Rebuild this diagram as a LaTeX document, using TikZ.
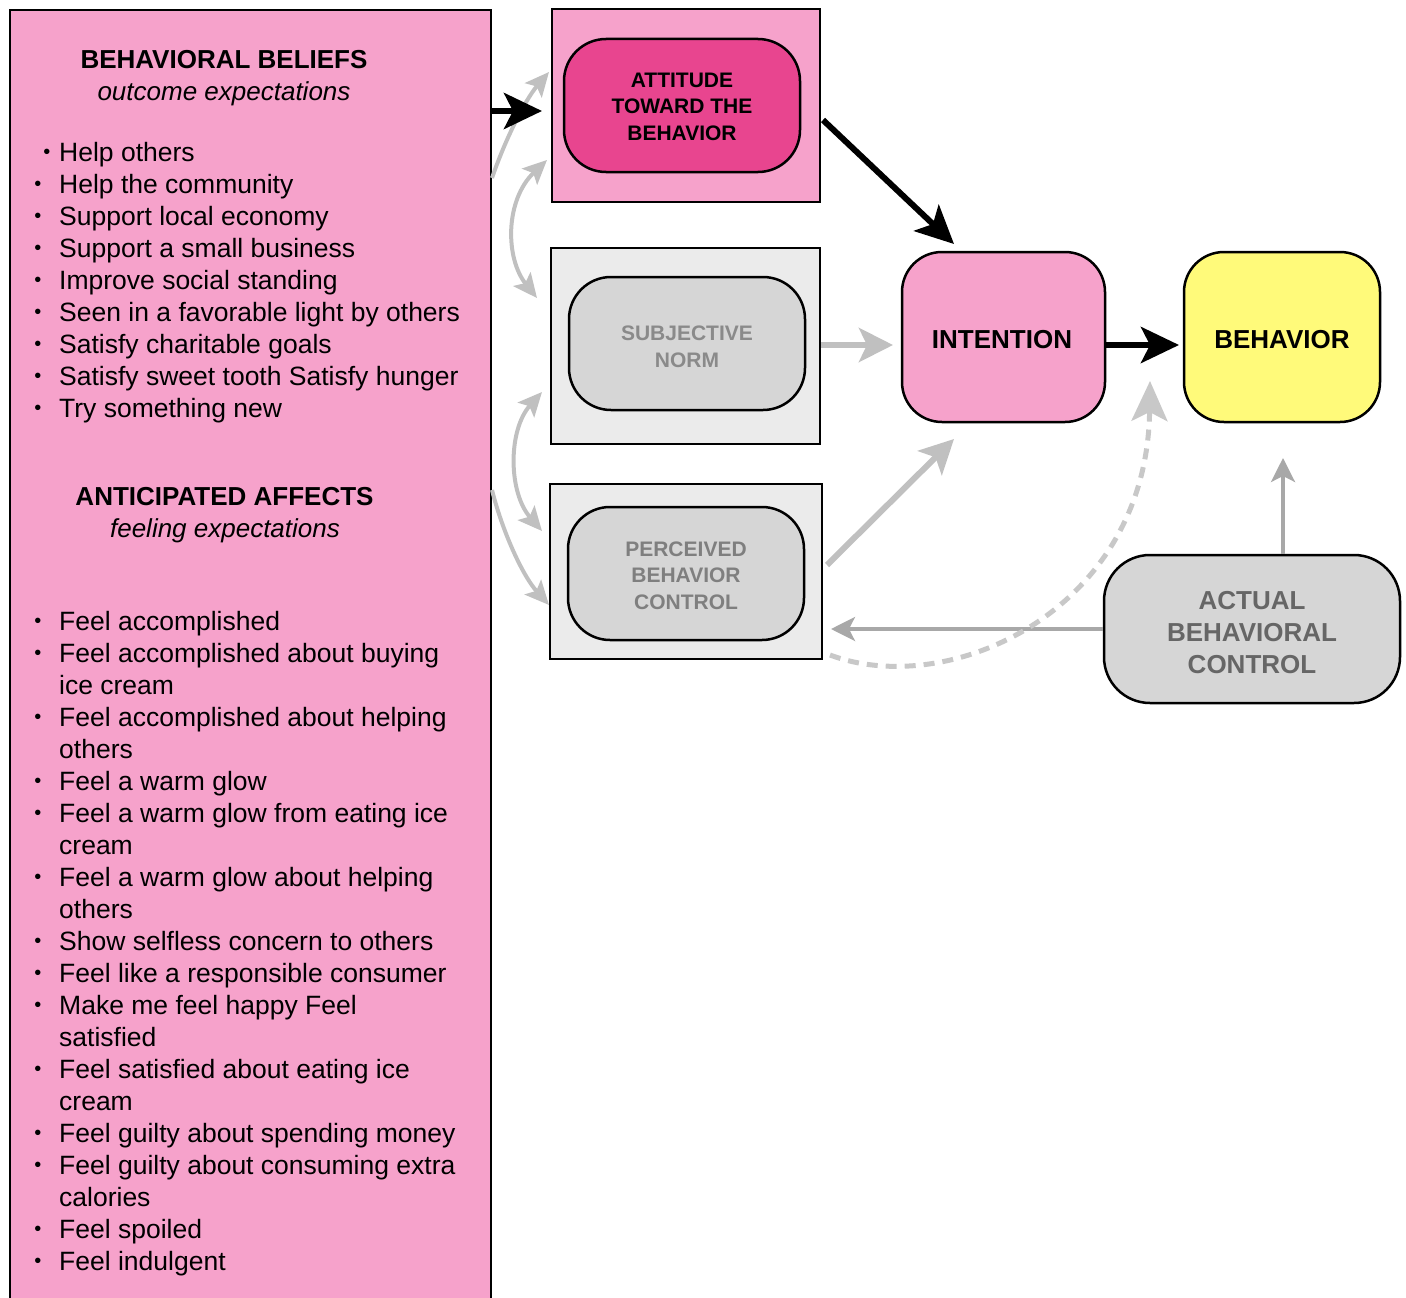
\documentclass[tikz,border=0pt]{standalone}
\usepackage{fontspec}
\setmainfont{Liberation Sans}
\usetikzlibrary{arrows.meta,calc}
\definecolor{panelpink}{HTML}{F6A2CB}
\definecolor{hotpink}{HTML}{E8458F}
\definecolor{outergrey}{HTML}{EBEBEB}
\definecolor{innergrey}{HTML}{D6D6D6}
\definecolor{softyellow}{HTML}{FFFA7A}
\definecolor{arrowgrey}{HTML}{C0C0C0}
\definecolor{thingrey}{HTML}{A8A8A8}
\definecolor{dashgrey}{HTML}{C8C8C8}
\definecolor{normtext}{HTML}{8A8A8A}
\definecolor{pbctext}{HTML}{7F7F7F}
\definecolor{abctext}{HTML}{666666}
\begin{document}
\begin{tikzpicture}[x=1pt,y=-1pt,
  outerbox/.style={draw=black,line width=2.5pt,minimum width=#1},
  innerbox/.style={draw=black,line width=2.5pt,rounded corners=42pt,
    minimum width=236pt,minimum height=133pt,inner sep=0pt},
  boxtext/.style={align=center,inner sep=0pt},
  smallcap/.style={font=\fontsize{21}{26.5}\selectfont\bfseries},
  bigcap/.style={font=\fontsize{26}{32}\selectfont\bfseries},
  mainbox/.style={draw=black,line width=2.5pt,rounded corners=40pt,
    minimum height=170pt,inner sep=0pt},
  listline/.style={anchor=base west,inner sep=0pt,font=\fontsize{26.5}{32}\selectfont},
  dot/.style={inner sep=0pt,font=\fontsize{20}{20}\selectfont},
  headline/.style={inner sep=0pt,font=\fontsize{26}{32}\selectfont\bfseries},
  subline/.style={inner sep=0pt,font=\fontsize{26}{32}\selectfont\itshape},
  blackarrow/.style={line width=6pt,-{Stealth[length=38pt,width=36pt,inset=9pt]}},
  greyarrow/.style={line width=6pt,arrowgrey,-{Stealth[length=34pt,width=34pt,inset=8pt]}},
  thinarrow/.style={line width=3.5pt,thingrey,-{Stealth[length=24pt,width=24pt,inset=6pt]}},
  dasharrow/.style={line width=5pt,dashgrey,dash pattern=on 11pt off 8pt,
    -{Stealth[length=40pt,width=36pt,inset=9pt,sep=0pt]}},
  swingarrow/.style={line width=4pt,arrowgrey,
    {Stealth[length=24pt,width=22pt,inset=5pt]}-{Stealth[length=24pt,width=22pt,inset=5pt]}},
  feedarrow/.style={line width=4pt,arrowgrey,-{Stealth[length=24pt,width=22pt,inset=5pt]}}
]
\useasboundingbox (0,0) rectangle (1406,1298);
\clip (0,0) rectangle (1406,1298);

% left panel with beliefs and affects
\draw[fill=panelpink,line width=2.5pt] (10,10) rectangle (491,1320);

\node[headline] (bbhead) at (224,60) {BEHAVIORAL BELIEFS};
\node[subline] (bbsub) at (224,94) {outcome expectations};
\node[headline] (aahead) at (224.5,497) {ANTICIPATED AFFECTS};
\node[subline] (aasub) at (225,531) {feeling expectations};

\node[dot] (d0) at (47,154) {•};
\node[listline] (b0) at (59,161) {Help others};
\foreach \y/\t [count=\i] in {184/Help the community,216/Support local economy,
  248/Support a small business,280/Improve social standing,
  312/Seen in a favorable light by others,344/Satisfy charitable goals,
  376/Satisfy sweet tooth Satisfy hunger,408/Try something new}{
  \node[dot] (d\i) at (38,\y+2) {•};
  \node[listline] (b\i) at (59,\y+9) {\t};
}

\foreach \y/\t/\b [count=\i] in {621/Feel accomplished/1,
  653/Feel accomplished about buying/1,685/ice cream/0,
  717/Feel accomplished about helping/1,749/others/0,
  781/Feel a warm glow/1,813/Feel a warm glow from eating ice/1,845/cream/0,
  877/Feel a warm glow about helping/1,909/others/0,
  941/Show selfless concern to others/1,973/Feel like a responsible consumer/1,
  1005/Make me feel happy Feel/1,1037/satisfied/0,
  1069/Feel satisfied about eating ice/1,1101/cream/0,
  1133/Feel guilty about spending money/1,
  1165/Feel guilty about consuming extra/1,1197/calories/0,
  1229/Feel spoiled/1,1261/Feel indulgent/1}{
  \ifnum\b=1 \node[dot] (e\i) at (38,\y+2) {•};\fi
  \node[listline] (a\i) at (59,\y+9) {\t};
}

% attitude
\node[outerbox=268pt,minimum height=193pt,fill=panelpink] (attout) at (686,105.5) {};
\node[innerbox,fill=hotpink] (att) at (682,105.5) {};
\node[boxtext,smallcap] (attlabel) at (682,106.5) {ATTITUDE\\TOWARD THE\\BEHAVIOR};

% subjective norm
\node[outerbox=269pt,minimum height=196pt,fill=outergrey] (normout) at (685.5,346) {};
\node[innerbox,fill=innergrey] (norm) at (687,343.5) {};
\node[boxtext,smallcap,text=normtext] (normlabel) at (687,347) {SUBJECTIVE\\NORM};

% perceived behavior control
\node[outerbox=272pt,minimum height=175pt,fill=outergrey] (pbcout) at (686,571.5) {};
\node[innerbox,fill=innergrey] (pbc) at (686,573.5) {};
\node[boxtext,smallcap,text=pbctext] (pbclabel) at (686,575.5) {PERCEIVED\\BEHAVIOR\\CONTROL};

% intention and behavior
\node[mainbox,minimum width=203pt,fill=panelpink] (int) at (1003.5,337) {};
\node[boxtext,bigcap] (intlabel) at (1002,340) {INTENTION};
\node[mainbox,minimum width=196pt,fill=softyellow] (beh) at (1282,337) {};
\node[boxtext,bigcap] (behlabel) at (1282,340) {BEHAVIOR};

% actual behavioral control
\node[draw=black,line width=2.5pt,rounded corners=46pt,minimum width=296pt,
  minimum height=148pt,fill=innergrey,inner sep=0pt] (abc) at (1252,629) {};
\node[boxtext,font=\fontsize{26}{32}\selectfont\bfseries,text=abctext] (abclabel)
  at (1252,633) {ACTUAL\\BEHAVIORAL\\CONTROL};

% connector ends
\coordinate (bbout) at (491,111);
\coordinate (attin) at (542,111);
\coordinate (attfrom) at (823,120);
\coordinate (intin) at (954,244);
\coordinate (normfrom) at (821,345);
\coordinate (intleft) at (893,345);
\coordinate (intright) at (1105,345);
\coordinate (behleft) at (1179,345);
\coordinate (pbcfrom) at (827,565);
\coordinate (intlow) at (954,439);
\coordinate (behlow) at (1283,458);
\coordinate (pbcright) at (831,629);
\coordinate (dashstart) at (830,655);
\coordinate (gapmid) at (1150,381);
\coordinate (panelA) at (492,178);
\coordinate (atttopleft) at (549,72);
\coordinate (panelB) at (492,490);
\coordinate (pbcleft) at (549,605);
\coordinate (swingA1) at (547,160);
\coordinate (swingA2) at (537,298);
\coordinate (swingB1) at (542,392);
\coordinate (swingB2) at (542,531);

% grey links out of the panel
\draw[feedarrow] (panelA) .. controls (505,140) and (525,100) .. (atttopleft);
\draw[feedarrow] (panelB) .. controls (502,530) and (522,575) .. (pbcleft);
\draw[swingarrow] (swingA1) .. controls (505,200) and (505,258) .. (swingA2);
\draw[swingarrow] (swingB1) .. controls (508,430) and (508,492) .. (swingB2);

% main paths
\draw[blackarrow] (bbout) -- (attin);
\draw[blackarrow] (attfrom) -- (intin);
\draw[blackarrow] (intright) -- (behleft);
\draw[greyarrow] (normfrom) -- (intleft);
\draw[greyarrow] (pbcfrom) -- (intlow);
\draw[thinarrow] (abc.north -| behlow) -- (behlow);
\draw[thinarrow] (abc.west) -- (pbcright);
\draw[dasharrow] (dashstart) .. controls (950,700) and (1147,610) .. (gapmid);
\end{tikzpicture}
\end{document}
